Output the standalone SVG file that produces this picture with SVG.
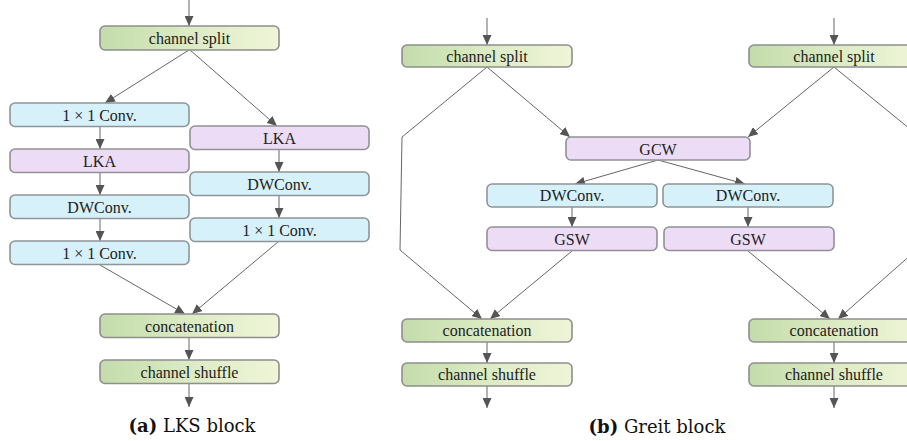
<svg xmlns="http://www.w3.org/2000/svg" width="907" height="441" viewBox="0 0 907 441">
<defs>
<linearGradient id="gr" x1="0" y1="0" x2="1" y2="0">
<stop offset="0" stop-color="#c3dcab"/>
<stop offset="0.5" stop-color="#dcebc4"/>
<stop offset="1" stop-color="#eff5d8"/>
</linearGradient>
<marker id="ah" markerUnits="userSpaceOnUse" markerWidth="10" markerHeight="9" refX="10" refY="4.5" orient="auto">
<path d="M0,0 L10,4.5 L0,9 z" fill="#555"/>
</marker>
<style>
.g{fill:url(#gr);stroke:#8e8e8e;stroke-width:1.6}
.b{fill:#d6f1f9;stroke:#8e9498;stroke-width:1.6}
.p{fill:#ecdcf5;stroke:#939096;stroke-width:1.6}
.t{font-family:"Liberation Serif","Times New Roman",serif;font-size:16px;fill:#222;text-anchor:middle}
.c{stroke:#666;stroke-width:1;fill:none;marker-end:url(#ah)}
.cn{stroke:#666;stroke-width:1;fill:none}
.cap{font-family:"DejaVu Serif","Liberation Serif",serif;font-size:18px;fill:#111;text-anchor:middle}
</style>
</defs>
<rect width="907" height="441" fill="#fff"/>

<g id="connectors">
<line class="c" x1="189" y1="0" x2="189" y2="26"/>
<line class="c" x1="189" y1="50" x2="105" y2="103"/>
<line class="c" x1="190" y1="50" x2="277" y2="126"/>
<line class="c" x1="100" y1="127" x2="100" y2="149"/>
<line class="c" x1="100" y1="173" x2="100" y2="195"/>
<line class="c" x1="100" y1="219" x2="100" y2="241"/>
<line class="c" x1="279" y1="150" x2="279" y2="172"/>
<line class="c" x1="279" y1="196" x2="279" y2="218"/>
<line class="c" x1="100" y1="265" x2="185" y2="314"/>
<line class="c" x1="278" y1="242" x2="192" y2="314"/>
<line class="c" x1="189" y1="338" x2="189" y2="360"/>
<line class="c" x1="189" y1="384" x2="189" y2="407"/>

<line class="c" x1="487" y1="18" x2="487" y2="45"/>
<line class="c" x1="834" y1="18" x2="834" y2="45"/>
<line class="c" x1="487" y1="67" x2="570" y2="137"/>
<polyline class="c" points="487,67 402,137 400,250 482,319"/>
<line class="c" x1="572" y1="251" x2="490" y2="319"/>
<line class="c" x1="834" y1="67" x2="748" y2="137"/>
<line class="cn" x1="834" y1="67" x2="921" y2="138"/>
<line class="c" x1="748" y1="251" x2="830" y2="319"/>
<line class="c" x1="921" y1="246" x2="838" y2="319"/>
<line class="c" x1="658" y1="160" x2="575" y2="184"/>
<line class="c" x1="658" y1="160" x2="745" y2="184"/>
<line class="c" x1="572" y1="207" x2="572" y2="227"/>
<line class="c" x1="748" y1="207" x2="748" y2="227"/>
<line class="c" x1="487" y1="342" x2="487" y2="363"/>
<line class="c" x1="834" y1="342" x2="834" y2="363"/>
<line class="c" x1="487" y1="386" x2="487" y2="408"/>
<line class="c" x1="834" y1="386" x2="834" y2="408"/>
</g>

<g id="a-split"><rect class="g" x="100" y="26" width="179" height="24" rx="5"/><text class="t" x="189.5" y="43.5">channel split</text></g>
<g id="a-conv1"><rect class="b" x="10" y="103" width="179" height="23.5" rx="5"/><text class="t" x="99.5" y="120.5">1 × 1 Conv.</text></g>
<g id="a-lka1"><rect class="p" x="10" y="149" width="179" height="23.5" rx="5"/><text class="t" x="99.5" y="166.5">LKA</text></g>
<g id="a-dw1"><rect class="b" x="10" y="195" width="179" height="23.5" rx="5"/><text class="t" x="99.5" y="212.5">DWConv.</text></g>
<g id="a-conv2"><rect class="b" x="10" y="241" width="179" height="23.5" rx="5"/><text class="t" x="99.5" y="258.5">1 × 1 Conv.</text></g>
<g id="a-lka2"><rect class="p" x="190" y="126" width="179" height="23.5" rx="5"/><text class="t" x="279.5" y="143.5">LKA</text></g>
<g id="a-dw2"><rect class="b" x="190" y="172" width="179" height="23.5" rx="5"/><text class="t" x="279.5" y="189.5">DWConv.</text></g>
<g id="a-conv3"><rect class="b" x="190" y="218" width="179" height="23.5" rx="5"/><text class="t" x="279.5" y="235.5">1 × 1 Conv.</text></g>
<g id="a-concat"><rect class="g" x="100" y="314" width="179" height="23.5" rx="5"/><text class="t" x="189.5" y="331.5">concatenation</text></g>
<g id="a-shuffle"><rect class="g" x="100" y="360" width="179" height="23.5" rx="5"/><text class="t" x="189.5" y="377.5">channel shuffle</text></g>
<text class="cap" x="192" y="432"><tspan font-weight="bold">(a)</tspan> LKS block</text>

<g id="b-split1"><rect class="g" x="402" y="45" width="170" height="22" rx="5"/><text class="t" x="487" y="61.5">channel split</text></g>
<g id="b-split2"><rect class="g" x="749" y="45" width="170" height="22" rx="5"/><text class="t" x="834" y="61.5">channel split</text></g>
<g id="b-gcw"><rect class="p" x="566" y="137" width="184" height="23" rx="5"/><text class="t" x="658" y="154.5">GCW</text></g>
<g id="b-dw1"><rect class="b" x="487" y="184" width="170" height="23" rx="5"/><text class="t" x="572" y="201">DWConv.</text></g>
<g id="b-dw2"><rect class="b" x="663" y="184" width="170" height="23" rx="5"/><text class="t" x="748" y="201">DWConv.</text></g>
<g id="b-gsw1"><rect class="p" x="487" y="227" width="170" height="23.5" rx="5"/><text class="t" x="572" y="244.5">GSW</text></g>
<g id="b-gsw2"><rect class="p" x="664" y="227" width="170" height="23.5" rx="5"/><text class="t" x="748" y="244.5">GSW</text></g>
<g id="b-concat1"><rect class="g" x="402" y="319" width="170" height="23" rx="5"/><text class="t" x="487" y="336">concatenation</text></g>
<g id="b-shuffle1"><rect class="g" x="402" y="363" width="170" height="23" rx="5"/><text class="t" x="487" y="380">channel shuffle</text></g>
<g id="b-concat2"><rect class="g" x="749" y="319" width="170" height="23" rx="5"/><text class="t" x="834" y="336">concatenation</text></g>
<g id="b-shuffle2"><rect class="g" x="749" y="363" width="170" height="23" rx="5"/><text class="t" x="834" y="380">channel shuffle</text></g>
<text class="cap" x="657" y="433"><tspan font-weight="bold">(b)</tspan> Greit block</text>
</svg>
